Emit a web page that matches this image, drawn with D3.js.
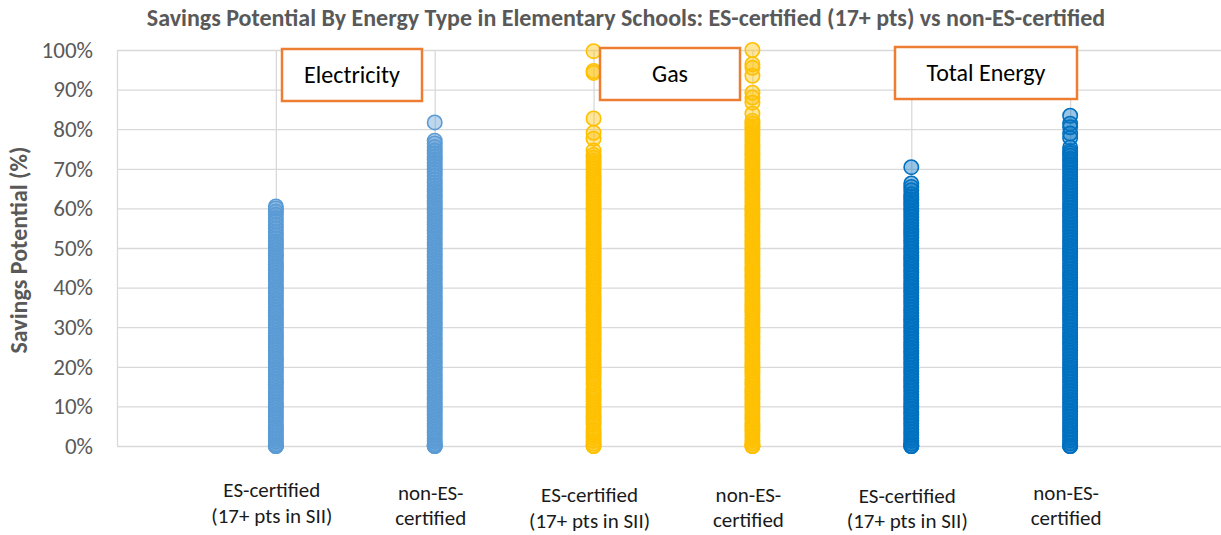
<!DOCTYPE html>
<html lang="en">
<head>
<meta charset="UTF-8">
<title>Savings Potential By Energy Type</title>
<script src="https://d3js.org/d3.v7.min.js"></script>
<style>
  body { margin: 0; background: #fff; }
  svg { display: block; font-family: Carlito, Calibri, Lato, sans-serif; }
</style>
</head>
<body>
<div id="chart"></div>
<script>
// category labels (two lines each) and x positions on the value axis
var catLines = [
  ["ES-certified", "(17+ pts in SII)"],
  ["non-ES-", "certified"],
  ["ES-certified", "(17+ pts in SII)"],
  ["non-ES-", "certified"],
  ["ES-certified", "(17+ pts in SII)"],
  ["non-ES-", "certified"]
];
var catX = [1, 2, 3, 4, 5, 6];
var yTicks = [0, 10, 20, 30, 40, 50, 60, 70, 80, 90, 100];
var groupNames = ["Electricity", "Gas", "Total Energy"];

// savings potential (%) per school
var elecES = [0,0,0,0.4,1.1,1.8,2.4,3.1,3.9,4.6,5.2,6.0,6.8,7.5,8.1,8.9,9.7,10.4,11.0,11.8,12.6,13.3,13.9,14.7,15.5,16.2,16.8,17.6,18.4,19.1,19.7,20.5,21.3,22.0,22.6,23.4,24.2,24.9,25.5,26.3,27.1,27.8,28.4,29.2,30.0,30.7,31.3,32.1,32.9,33.6,34.2,35.0,35.8,36.5,37.1,37.9,38.7,39.4,40.0,40.8,41.6,42.3,42.9,43.7,44.5,45.2,45.8,46.6,47.4,48.1,48.7,49.5,50.3,51.0,51.6,52.4,53.2,54.0,54.9,55.8,56.7,57.5,58.4,59.2,60.0,60.5];
var elecNon = [0,0,0,0.5,1.2,1.9,2.7,3.4,4.2,4.9,5.7,6.4,7.2,7.9,8.7,9.4,10.2,10.9,11.7,12.4,13.2,13.9,14.7,15.4,16.2,16.9,17.7,18.4,19.2,19.9,20.7,21.4,22.2,22.9,23.7,24.4,25.2,25.9,26.7,27.4,28.2,28.9,29.7,30.4,31.2,31.9,32.7,33.4,34.2,34.9,35.7,36.4,37.2,37.9,38.7,39.4,40.2,40.9,41.7,42.4,43.2,43.9,44.7,45.4,46.2,46.9,47.7,48.4,49.2,49.9,50.7,51.4,52.2,52.9,53.7,54.4,55.2,55.9,56.7,57.4,58.2,58.9,59.7,60.4,61.2,61.9,62.7,63.4,64.2,64.9,65.7,66.5,67.3,68.2,69.0,69.8,70.7,71.5,72.3,73.0,73.8,74.6,75.5,76.4,77.1,81.7];
var gasES = [0,0,0.6,1.3,2.1,2.8,3.5,4.1,5.4,6.1,6.9,7.6,8.3,9.1,9.8,10.5,11.3,12.0,12.7,13.5,14.2,15.6,16.3,17.1,17.8,18.5,19.3,20.0,20.7,21.5,22.2,22.9,23.7,24.4,25.1,25.9,26.6,27.3,28.1,28.8,29.5,30.3,31.0,31.7,32.5,33.2,33.9,34.7,35.4,36.1,36.9,37.6,38.3,39.1,39.8,40.5,41.3,42.0,42.7,43.5,44.2,44.9,45.7,46.4,47.1,47.9,48.6,49.3,50.1,50.8,51.5,52.3,53.0,53.7,54.5,55.2,55.9,56.7,57.4,58.1,58.9,59.6,60.3,61.1,61.8,62.5,63.3,64.0,64.7,65.5,66.2,66.9,67.7,68.4,69.1,69.9,70.6,71.3,72.0,72.8,73.5,74.6,77.6,79.1,82.7,94.2,94.7,99.7];
var gasNon = [0,0,0,0.7,1.4,2.2,2.9,3.6,4.4,5.1,5.8,6.6,7.3,8.0,8.8,9.5,10.2,11.0,11.7,12.4,13.2,13.9,14.6,15.4,16.1,16.8,17.6,18.3,19.0,19.8,20.5,21.2,22.0,22.7,23.4,24.2,24.9,25.6,26.4,27.1,27.8,28.6,29.3,30.0,30.8,31.5,32.2,33.0,33.7,34.4,35.2,35.9,36.6,37.4,38.1,38.8,39.6,40.3,41.0,41.8,42.5,43.2,44.0,44.7,45.4,46.2,46.9,47.6,48.4,49.1,49.8,50.6,51.3,52.0,52.8,53.5,54.2,55.0,55.7,56.4,57.2,57.9,58.6,59.4,60.1,60.8,61.6,62.3,63.0,63.8,64.5,65.2,66.0,66.7,67.4,68.2,68.9,69.6,70.4,71.1,71.8,72.6,73.3,74.0,74.8,75.5,76.2,77.0,77.7,78.4,79.2,79.9,80.6,81.4,82.1,83.9,86.7,88.0,89.2,93.5,95.5,96.4,100];
var totalES = [0,0,0,0.6,1.3,2.0,2.8,3.5,4.2,5.0,5.7,6.4,7.2,7.9,8.6,9.4,10.1,10.8,11.6,12.3,13.0,13.8,14.5,15.2,16.0,16.7,17.4,18.2,18.9,19.6,20.4,21.1,21.8,22.6,23.3,24.0,24.8,25.5,26.2,27.0,27.7,28.4,29.2,29.9,30.6,31.4,32.1,32.8,33.6,34.3,35.0,35.8,36.5,37.2,38.0,38.7,39.4,40.2,40.9,41.6,42.4,43.1,43.8,44.6,45.3,46.0,46.8,47.5,48.2,49.0,49.7,50.4,51.2,51.9,52.6,53.4,54.1,54.8,55.6,56.3,57.0,57.8,58.5,59.2,60.0,60.7,61.4,62.2,62.9,63.6,64.6,65.4,66.3,70.4];
var totalNon = [0,0,0,0.7,1.4,2.1,2.9,3.6,4.3,5.1,5.8,6.5,7.3,8.0,8.7,9.5,10.2,10.9,11.7,12.4,13.1,13.9,14.6,15.3,16.1,16.8,17.5,18.3,19.0,19.7,20.5,21.2,21.9,22.7,23.4,24.1,24.9,25.6,26.3,27.1,27.8,28.5,29.3,30.0,30.7,31.5,32.2,32.9,33.7,34.4,35.1,35.9,36.6,37.3,38.1,38.8,39.5,40.3,41.0,41.7,42.5,43.2,43.9,44.7,45.4,46.1,46.9,47.6,48.3,49.1,49.8,50.5,51.3,52.0,52.7,53.5,54.2,54.9,55.7,56.4,57.1,57.9,58.6,59.3,60.1,60.8,61.5,62.3,63.0,63.7,64.5,65.2,65.9,66.7,67.4,68.1,68.9,69.6,70.3,71.1,71.8,72.5,73.3,73.9,74.5,75.4,77.8,78.9,80.5,81.4,83.4];

var W = 1221, H = 535;
var plot = {left: 117, right: 1229, top: 50, bottom: 446};

var svg = d3.select("#chart").append("svg")
  .attr("width", W).attr("height", H);

var x = d3.scaleLinear().domain([0, 7]).range([plot.left, plot.right]);
var y = d3.scaleLinear().domain([0, 100]).range([plot.bottom, plot.top]);

// horizontal gridlines + y tick labels
var yAxis = svg.append("g")
  .attr("transform", "translate(" + plot.left + ",0)")
  .call(d3.axisLeft(y).tickValues(yTicks).tickFormat(function(d) { return d + "%"; })
    .tickSize(-(plot.right - plot.left)).tickPadding(24));
yAxis.select(".domain").remove();
yAxis.selectAll("line").attr("stroke", "#d9d9d9").attr("stroke-width", 1.3);
yAxis.selectAll("text").attr("fill", "#595959").style("font-size", "23px")
  .style("font-family", "Carlito, Calibri, Lato, sans-serif");

// vertical gridlines
var xAxis = svg.append("g")
  .attr("transform", "translate(0," + plot.bottom + ")")
  .call(d3.axisBottom(x).tickValues([0, 1, 2, 3, 4, 5, 6, 7]).tickFormat("")
    .tickSize(-(plot.bottom - plot.top)));
xAxis.select(".domain").remove();
xAxis.selectAll("line").attr("stroke", "#d9d9d9").attr("stroke-width", 1.3);

// the six point columns
var series = [
  {x: catX[0], values: elecES,   color: "#5b9bd5"},
  {x: catX[1], values: elecNon,  color: "#5b9bd5"},
  {x: catX[2], values: gasES,    color: "#ffc000"},
  {x: catX[3], values: gasNon,   color: "#ffc000"},
  {x: catX[4], values: totalES,  color: "#0070c0"},
  {x: catX[5], values: totalNon, color: "#0070c0"}
];

series.forEach(function(s) {
  svg.append("g").selectAll("circle")
    .data(s.values)
    .enter().append("circle")
      .attr("cx", x(s.x))
      .attr("cy", function(d) { return y(d); })
      .attr("r", 7.2)
      .attr("fill", s.color)
      .attr("fill-opacity", 0.4)
      .attr("stroke", s.color)
      .attr("stroke-width", 1.6);
});

// category labels under the plot
var labY = [[497, 523], [500, 525], [502, 528], [502, 527], [503, 528], [500, 525]];
catLines.forEach(function(lines, i) {
  var t = svg.append("text")
    .attr("text-anchor", "middle")
    .attr("fill", "#1a1a1a")
    .style("font-size", "21px");
  lines.forEach(function(l, j) {
    t.append("tspan").attr("x", x(catX[i]) - 4).attr("y", labY[i][j]).text(l);
  });
});

// group boxes
var boxes = [
  {x0: 282, x1: 422, y0: 49, y1: 101},
  {x0: 600, x1: 740, y0: 48, y1: 100},
  {x0: 895, x1: 1077, y0: 47, y1: 99}
];
boxes.forEach(function(b, i) {
  svg.append("rect")
    .attr("x", b.x0).attr("y", b.y0)
    .attr("width", b.x1 - b.x0).attr("height", b.y1 - b.y0)
    .attr("fill", "#fff").attr("stroke", "#ed7d31").attr("stroke-width", 2.5);
  svg.append("text")
    .attr("x", (b.x0 + b.x1) / 2).attr("y", (b.y0 + b.y1) / 2 + 8)
    .attr("text-anchor", "middle")
    .attr("fill", "#000")
    .style("font-size", "24px")
    .text(groupNames[i]);
});

// title
svg.append("text")
  .attr("x", 626).attr("y", 26)
  .attr("text-anchor", "middle")
  .attr("fill", "#595959")
  .style("font-size", "24px")
  .style("font-weight", "bold")
  .text("Savings Potential By Energy Type in Elementary Schools: ES-certified (17+ pts) vs non-ES-certified");

// y axis title
svg.append("text")
  .attr("transform", "translate(27,250) rotate(-90)")
  .attr("text-anchor", "middle")
  .attr("fill", "#595959")
  .style("font-size", "24px")
  .style("font-weight", "bold")
  .text("Savings Potential (%)");
</script>
</body>
</html>
